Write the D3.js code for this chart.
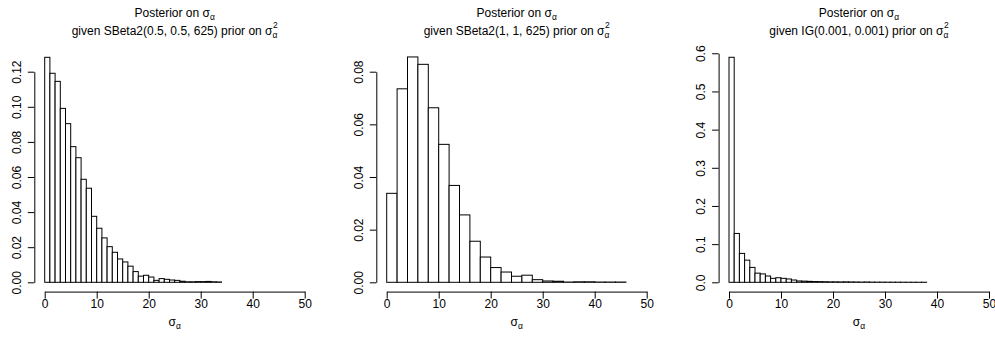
<!DOCTYPE html>
<html>
<head>
<meta charset="utf-8">
<script src="https://cdn.jsdelivr.net/npm/d3@7"></script>
<style>
  body { margin: 0; background: #fff; }
  svg { display: block; }
  text { font-family: "Liberation Sans", Arial, Helvetica, sans-serif; fill: #000; }
</style>
</head>
<body>
<svg id="chart" width="995" height="343"></svg>
<script>
// ---- Data ----
const xTicks = [0, 10, 20, 30, 40, 50];

// Panel 1: SBeta2(0.5, 0.5, 625), bins of width 1 from 0
const p1Width = 1;
const p1Density = [0.1282, 0.1191, 0.1145, 0.0991, 0.0904, 0.0773, 0.0710, 0.0587, 0.0536, 0.0376,
  0.0308, 0.0253, 0.0203, 0.0171, 0.0133, 0.0116, 0.0092, 0.0061, 0.0035, 0.0040,
  0.0030, 0.0011, 0.0021, 0.0017, 0.0013, 0.0011, 0.0006, 0.0003, 0.0003, 0.0004,
  0.0004, 0.0005, 0.0003, 0.0002];
const p1YTicks = [0, 0.02, 0.04, 0.06, 0.08, 0.10, 0.12];
const p1YLabels = ["0.00", "0.02", "0.04", "0.06", "0.08", "0.10", "0.12"];
const p1Prior = "given SBeta2(0.5, 0.5, 625) prior on ";

// Panel 2: SBeta2(1, 1, 625), bins of width 2 from 0
const p2Width = 2;
const p2Density = [0.0338, 0.0735, 0.0856, 0.0828, 0.0663, 0.0524, 0.0368, 0.0256, 0.0156, 0.0096,
  0.0056, 0.0039, 0.0023, 0.0027, 0.0010, 0.0005, 0.0004, 0.0001, 0.0002, 0.0002,
  0.0001, 0.0001, 0.0001];
const p2YTicks = [0, 0.02, 0.04, 0.06, 0.08];
const p2YLabels = ["0.00", "0.02", "0.04", "0.06", "0.08"];
const p2Prior = "given SBeta2(1, 1, 625) prior on ";

// Panel 3: IG(0.001, 0.001), bins of width 1 from 0
const p3Width = 1;
const p3Density = [0.5895, 0.1280, 0.0757, 0.0580, 0.0390, 0.0240, 0.0220, 0.0165, 0.0104, 0.0120,
  0.0104, 0.0087, 0.0060, 0.0035, 0.0030, 0.0025, 0.0020, 0.0018, 0.0015, 0.0012,
  0.0012, 0.0010, 0.0012, 0.0010, 0.0008, 0.0006, 0.0008, 0.0005, 0.0004, 0.0004,
  0.0003, 0.0003, 0.0003, 0.0002, 0.0002, 0.0002, 0.0001, 0.0002];
const p3YTicks = [0, 0.1, 0.2, 0.3, 0.4, 0.5, 0.6];
const p3YLabels = ["0.0", "0.1", "0.2", "0.3", "0.4", "0.5", "0.6"];
const p3Prior = "given IG(0.001, 0.001) prior on ";

const titleLine1 = "Posterior on ";

// ---- Layout ----
const svg = d3.select("#chart");
const baseY = 282.3;
const panels = [
  { x0: 44.7, width: p1Width, dens: p1Density, yTicks: p1YTicks, yLabels: p1YLabels, prior: p1Prior, pxPerUnit: 1755 },
  { x0: 386.7, width: p2Width, dens: p2Density, yTicks: p2YTicks, yLabels: p2YLabels, prior: p2Prior, pxPerUnit: 2632.5 },
  { x0: 729.0, width: p3Width, dens: p3Density, yTicks: p3YTicks, yLabels: p3YLabels, prior: p3Prior, pxPerUnit: 381.7 }
];

function sigmaText(g, x, y, pre, withSquare) {
  const t = g.append("text").attr("x", x).attr("y", y)
    .attr("text-anchor", "middle").style("font-size", "12px");
  t.append("tspan").text(pre + "σ");
  const sub = t.append("tspan").attr("dy", 3).style("font-size", "8.5px").text("α");
  if (withSquare) {
    const w = sub.node().getComputedTextLength();
    t.append("tspan").attr("dx", -w + 0.5).attr("dy", -9.5).style("font-size", "8.5px").text("2");
  }
  return t;
}

panels.forEach(p => {
  const maxTick = p.yTicks[p.yTicks.length - 1];
  const x = d3.scaleLinear().domain([0, 50]).range([p.x0, p.x0 + 260]);
  const y = d3.scaleLinear().domain([0, maxTick]).range([baseY, baseY - maxTick * p.pxPerUnit]);
  const g = svg.append("g");
  const axisX = p.x0 - 10.4;
  const axisY = 291.6;

  // bars
  g.selectAll("rect.bar").data(p.dens).enter().append("rect")
    .attr("class", "bar")
    .attr("x", (d, i) => x(i * p.width))
    .attr("width", (d, i) => x((i + 1) * p.width) - x(i * p.width))
    .attr("y", d => y(d))
    .attr("height", d => baseY - y(d))
    .attr("fill", "#fff").attr("stroke", "#000").attr("stroke-width", 1);

  // x axis
  const xa = g.append("g").attr("transform", `translate(0,${axisY})`)
    .call(d3.axisBottom(x).tickValues(xTicks).tickSize(7).tickSizeOuter(0).tickFormat(d3.format("d")));
  xa.select(".domain").attr("stroke", "#000");
  xa.selectAll(".tick line").attr("stroke", "#000");
  xa.selectAll(".tick text").style("font-size", "12px").attr("font-family", null).attr("y", 16.5).attr("dy", 0);

  // y axis
  const ya = g.append("g").attr("transform", `translate(${axisX},0)`)
    .call(d3.axisLeft(y).tickValues(p.yTicks).tickSize(6.5).tickSizeOuter(0).tickFormat((d, i) => p.yLabels[i]));
  ya.select(".domain").attr("stroke", "#000");
  ya.selectAll(".tick line").attr("stroke", "#000");
  ya.selectAll(".tick text").style("font-size", "12px").attr("font-family", null)
    .attr("transform", "rotate(-90)").attr("x", 0).attr("y", -13.4).attr("dy", 0)
    .attr("text-anchor", "middle");

  // titles
  const cx = p.x0 + 130;
  sigmaText(svg, cx, 16.5, titleLine1, false);
  sigmaText(svg, cx, 34.5, p.prior, true);
  // x label
  sigmaText(svg, cx, 325.5, "", false);
});
</script>
</body>
</html>
